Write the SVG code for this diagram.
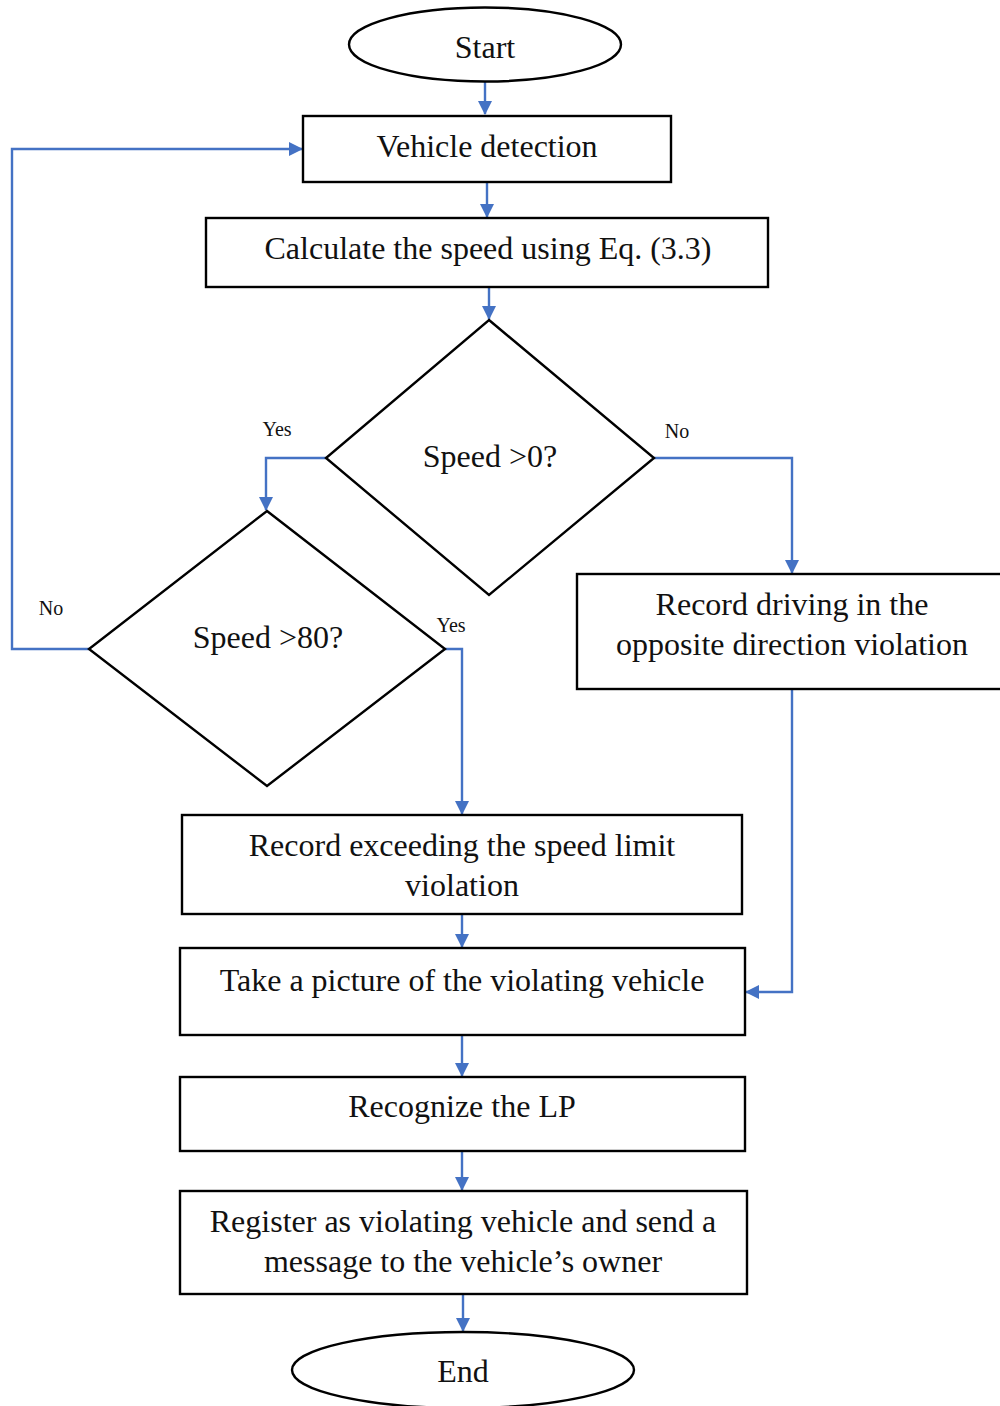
<svg xmlns="http://www.w3.org/2000/svg" width="1000" height="1406" viewBox="0 0 1000 1406">
  <style>
    .shape { fill: #ffffff; stroke: #000000; stroke-width: 2.4; }
    .label { font-family: "Liberation Serif", "Times New Roman", serif; font-size: 32px; fill: #111111; text-anchor: middle; }
    .small { font-family: "Liberation Serif", "Times New Roman", serif; font-size: 20px; fill: #111111; text-anchor: middle; }
    .link { fill: none; stroke: #4472C4; stroke-width: 2.4; }
  </style>
  <defs>
    <marker id="arrow" viewBox="0 0 14 14" refX="13" refY="7" markerWidth="14" markerHeight="14" markerUnits="userSpaceOnUse" orient="auto">
      <path d="M0,0 L14,7 L0,14 Z" fill="#4472C4"/>
    </marker>
  </defs>
  <rect width="1000" height="1406" fill="#ffffff"/>

  <g id="connectors">
    <path class="link" d="M485,82 L485,114" marker-end="url(#arrow)"/>
    <path class="link" d="M487,182 L487,217" marker-end="url(#arrow)"/>
    <path class="link" d="M489,287 L489,319" marker-end="url(#arrow)"/>
    <!-- Speed >0? : Yes -->
    <path class="link" d="M326,458 L266,458 L266,510" marker-end="url(#arrow)"/>
    <!-- Speed >0? : No -->
    <path class="link" d="M654,458 L792,458 L792,573" marker-end="url(#arrow)"/>
    <!-- Speed >80? : No, back to detection -->
    <path class="link" d="M89,649 L12,649 L12,149 L302,149" marker-end="url(#arrow)"/>
    <!-- Speed >80? : Yes -->
    <path class="link" d="M445,649 L462,649 L462,814" marker-end="url(#arrow)"/>
    <!-- opposite direction record to picture -->
    <path class="link" d="M792,689 L792,992 L746,992" marker-end="url(#arrow)"/>
    <path class="link" d="M462,914 L462,947" marker-end="url(#arrow)"/>
    <path class="link" d="M462,1035 L462,1076" marker-end="url(#arrow)"/>
    <path class="link" d="M462,1151 L462,1190" marker-end="url(#arrow)"/>
    <path class="link" d="M463,1294 L463,1331" marker-end="url(#arrow)"/>
    <text class="small" x="277" y="436">Yes</text>
    <text class="small" x="677" y="438">No</text>
    <text class="small" x="51" y="615">No</text>
    <text class="small" x="451" y="632">Yes</text>
  </g>

  <g id="start">
    <ellipse class="shape" cx="485" cy="44.5" rx="136" ry="37"/>
    <text class="label" x="485" y="58">Start</text>
  </g>

  <g id="vehicle-detection">
    <rect class="shape" x="303" y="116" width="368" height="66"/>
    <text class="label" x="487" y="157">Vehicle detection</text>
  </g>

  <g id="calculate-speed">
    <rect class="shape" x="206" y="218" width="562" height="69"/>
    <text class="label" x="488" y="259">Calculate the speed using Eq. (3.3)</text>
  </g>

  <g id="speed-positive">
    <polygon class="shape" points="489,320 654,458 489,595 326,458"/>
    <text class="label" x="490" y="467">Speed &gt;0?</text>
  </g>

  <g id="speed-limit">
    <polygon class="shape" points="267,511 445,649 267,786 89,649"/>
    <text class="label" x="268" y="648">Speed &gt;80?</text>
  </g>

  <g id="record-opposite">
    <rect class="shape" x="577" y="574" width="433" height="115"/>
    <text class="label" x="792" y="615">Record driving in the</text>
    <text class="label" x="792" y="655">opposite direction violation</text>
  </g>

  <g id="record-speeding">
    <rect class="shape" x="182" y="815" width="560" height="99"/>
    <text class="label" x="462" y="856">Record exceeding the speed limit</text>
    <text class="label" x="462" y="896">violation</text>
  </g>

  <g id="take-picture">
    <rect class="shape" x="180" y="948" width="565" height="87"/>
    <text class="label" x="462" y="991">Take a picture of the violating vehicle</text>
  </g>

  <g id="recognize-lp">
    <rect class="shape" x="180" y="1077" width="565" height="74"/>
    <text class="label" x="462" y="1117">Recognize the LP</text>
  </g>

  <g id="register">
    <rect class="shape" x="180" y="1191" width="567" height="103"/>
    <text class="label" x="463" y="1232">Register as violating vehicle and send a</text>
    <text class="label" x="463" y="1272">message to the vehicle’s owner</text>
  </g>

  <g id="end">
    <ellipse class="shape" cx="463" cy="1370" rx="171" ry="38"/>
    <text class="label" x="463" y="1382">End</text>
  </g>
</svg>
